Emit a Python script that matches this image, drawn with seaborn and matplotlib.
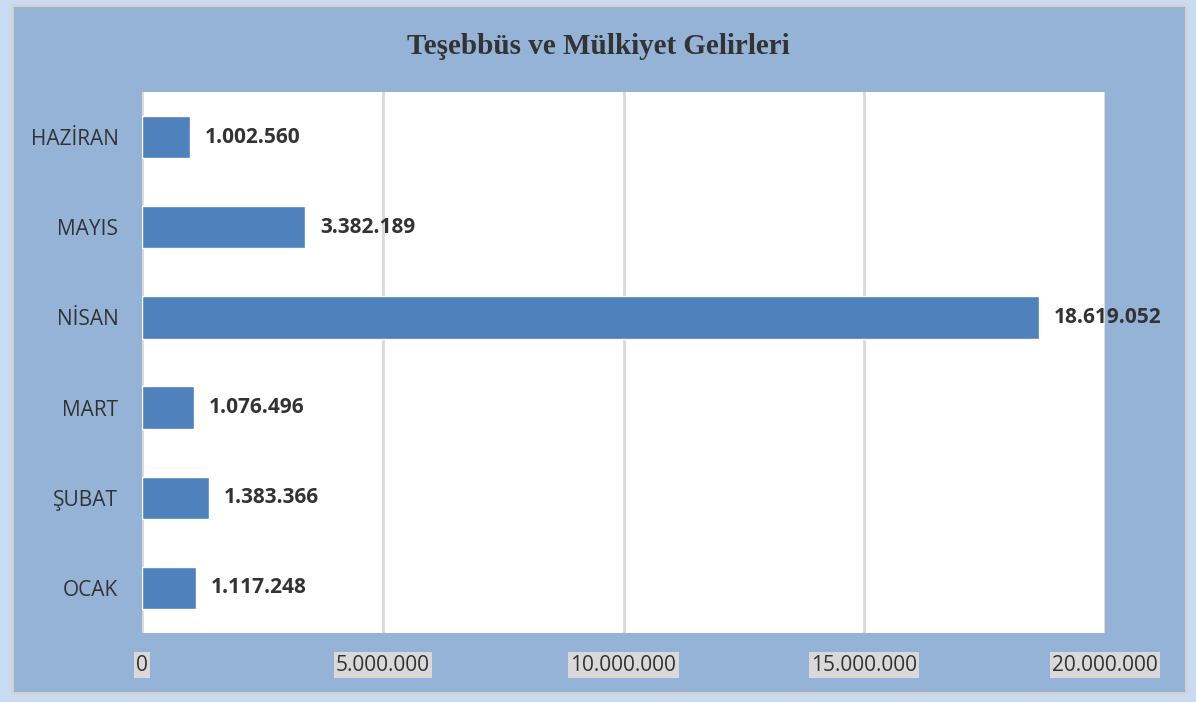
import numpy as np
import pandas as pd
import seaborn as sns
import matplotlib.pyplot as plt
from matplotlib.patches import Rectangle

# data (top to bottom as in the chart)
months = ["HAZİRAN", "MAYIS", "NİSAN", "MART", "ŞUBAT", "OCAK"]
values = [1002560, 3382189, 18619052, 1076496, 1383366, 1117248]
xticks = [0, 5000000, 10000000, 15000000, 20000000]

def tr_fmt(v):
    return f"{v:,.0f}".replace(",", ".")

df = pd.DataFrame({"ay": months, "gelir": values})

sns.set_style("white")
plt.rcParams["font.family"] = ["Open Sans", "DejaVu Sans"]

fig = plt.figure(figsize=(11.96, 7.02), dpi=100)
fig.patch.set_facecolor("#C9DBF0")
# inner blue panel, behind the axes
panel = Rectangle((12 / 1196, 9 / 702), 1174 / 1196, 688 / 702,
                  transform=fig.transFigure, facecolor="#95B3D7",
                  edgecolor="#D4D4D4", linewidth=2, zorder=-10)
fig.add_artist(panel)

ax = fig.add_axes([142 / 1196, 69 / 702, 963 / 1196, 541 / 702])
ax.set_zorder(1)
ax.set_facecolor("white")

sns.barplot(data=df, x="gelir", y="ay", orient="h", color="#4F81BD",
            saturation=1, width=0.47, ax=ax, zorder=3)

ax.set_xlim(0, 20000000)
ax.set_ylim(5.5, -0.5)
ax.set_xticks(xticks)
ax.set_xticklabels([tr_fmt(t) for t in xticks])
ax.grid(axis="x", color="#D9D9D9", linewidth=2, zorder=0)
ax.set_axisbelow(True)
for s in ax.spines.values():
    s.set_visible(False)
ax.set_xlabel("")
ax.set_ylabel("")
ax.tick_params(axis="both", length=0, labelsize=15, labelcolor="#333333")
ax.tick_params(axis="y", pad=17)
ax.tick_params(axis="x", pad=15.5)
for lab in ax.get_xticklabels():
    lab.set_bbox(dict(facecolor="#D9D9D9", edgecolor="none", pad=1.5))

for i, v in enumerate(values):
    ax.text(v + 310000, i, tr_fmt(v), va="center", ha="left",
            fontsize=15, fontweight="bold", color="#333333", zorder=5)

fig.text(0.5, 1 - 46 / 702, "Teşebbüs ve Mülkiyet Gelirleri",
         ha="center", va="center", fontsize=21, fontweight="bold",
         family=["Liberation Serif", "DejaVu Serif"], color="#333333")

fig.savefig("out.png", dpi=100, facecolor=fig.get_facecolor())
